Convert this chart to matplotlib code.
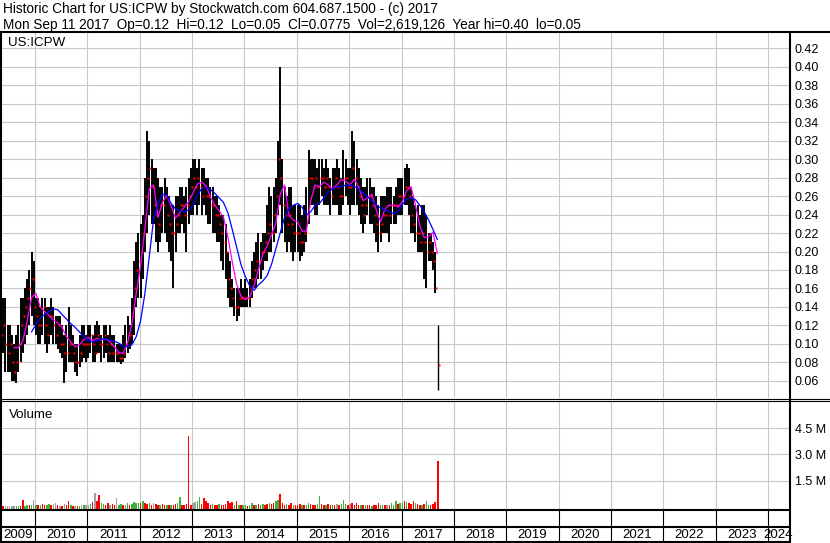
import numpy as np
import matplotlib
matplotlib.use("Agg")
import matplotlib.pyplot as plt

W, H = 830, 543
plt.rcParams['font.family'] = ['Liberation Sans', 'DejaVu Sans']

# semi-monthly bars, first one early May 2009
highs = [
    0.15, 0.15, 0.15, 0.12, 0.12, 0.11, 0.10, 0.11, 0.12, 0.15, 0.15, 0.16, 0.17, 0.18, 0.20, 0.19,
    0.15, 0.15, 0.14, 0.15, 0.15, 0.14, 0.14, 0.15, 0.14, 0.13, 0.13, 0.13, 0.12, 0.11, 0.12, 0.14, 0.12, 0.11, 0.10, 0.10, 0.11, 0.12, 0.12, 0.11,
    0.12, 0.12, 0.11, 0.12, 0.125, 0.12, 0.11, 0.12, 0.12, 0.11, 0.12, 0.11, 0.11, 0.10, 0.10, 0.10, 0.11, 0.12, 0.13, 0.12, 0.15, 0.19, 0.21, 0.22,
    0.23, 0.24, 0.28, 0.33, 0.32, 0.30, 0.29, 0.29, 0.28, 0.27, 0.27, 0.28, 0.27, 0.26, 0.25, 0.25, 0.26, 0.26, 0.27, 0.27, 0.26, 0.27, 0.28, 0.29,
    0.30, 0.30, 0.29, 0.30, 0.29, 0.29, 0.28, 0.28, 0.27, 0.27, 0.26, 0.26, 0.25, 0.24, 0.24, 0.23, 0.20, 0.19, 0.17, 0.16, 0.16, 0.16, 0.17, 0.16,
    0.17, 0.16, 0.17, 0.19, 0.20, 0.21, 0.22, 0.21, 0.22, 0.22, 0.25, 0.27, 0.26, 0.27, 0.28, 0.32, 0.40, 0.30, 0.27, 0.26, 0.27, 0.27, 0.25, 0.25,
    0.25, 0.25, 0.24, 0.25, 0.27, 0.31, 0.30, 0.30, 0.30, 0.29, 0.30, 0.30, 0.29, 0.30, 0.29, 0.28, 0.29, 0.29, 0.30, 0.29, 0.28, 0.31, 0.30, 0.29,
    0.29, 0.33, 0.32, 0.30, 0.29, 0.28, 0.27, 0.27, 0.28, 0.28, 0.27, 0.27, 0.26, 0.25, 0.26, 0.26, 0.26, 0.27, 0.27, 0.27, 0.26, 0.27, 0.28, 0.28,
    0.28, 0.29, 0.295, 0.29, 0.27, 0.26, 0.25, 0.25, 0.24, 0.25, 0.25, 0.24, 0.22, 0.22, 0.21, 0.20,
]
lows = [
    0.08, 0.09, 0.07, 0.07, 0.07, 0.06, 0.06, 0.058, 0.07, 0.08, 0.09, 0.10, 0.11, 0.12, 0.13, 0.12,
    0.11, 0.10, 0.10, 0.11, 0.10, 0.09, 0.10, 0.11, 0.10, 0.10, 0.095, 0.09, 0.085, 0.058, 0.07, 0.08, 0.08, 0.08, 0.07, 0.065, 0.075, 0.08, 0.085, 0.08,
    0.085, 0.09, 0.08, 0.08, 0.09, 0.09, 0.08, 0.085, 0.09, 0.08, 0.08, 0.08, 0.08, 0.08, 0.08, 0.078, 0.08, 0.085, 0.09, 0.095, 0.10, 0.11, 0.14, 0.15,
    0.15, 0.17, 0.20, 0.22, 0.24, 0.23, 0.23, 0.21, 0.20, 0.21, 0.22, 0.22, 0.21, 0.20, 0.19, 0.16, 0.20, 0.22, 0.22, 0.23, 0.22, 0.20, 0.23, 0.24,
    0.24, 0.25, 0.24, 0.25, 0.24, 0.25, 0.24, 0.23, 0.23, 0.22, 0.22, 0.21, 0.21, 0.19, 0.18, 0.17, 0.15, 0.14, 0.14, 0.13, 0.125, 0.13, 0.14, 0.14,
    0.14, 0.14, 0.14, 0.15, 0.16, 0.16, 0.17, 0.17, 0.18, 0.19, 0.19, 0.20, 0.20, 0.21, 0.22, 0.24, 0.25, 0.22, 0.21, 0.20, 0.21, 0.20, 0.19, 0.20,
    0.20, 0.19, 0.195, 0.20, 0.21, 0.23, 0.25, 0.25, 0.24, 0.24, 0.25, 0.26, 0.25, 0.25, 0.25, 0.24, 0.25, 0.25, 0.25, 0.24, 0.24, 0.25, 0.26, 0.25,
    0.24, 0.25, 0.25, 0.25, 0.24, 0.23, 0.22, 0.23, 0.24, 0.23, 0.23, 0.22, 0.21, 0.20, 0.21, 0.22, 0.22, 0.22, 0.21, 0.23, 0.23, 0.23, 0.24, 0.24,
    0.24, 0.25, 0.25, 0.24, 0.22, 0.22, 0.21, 0.20, 0.20, 0.20, 0.17, 0.16, 0.19, 0.19, 0.18, 0.155,
]
closes = [
    0.11, 0.12, 0.10, 0.09, 0.10, 0.08, 0.07, 0.08, 0.10, 0.12, 0.13, 0.14, 0.15, 0.16, 0.17, 0.14,
    0.13, 0.12, 0.12, 0.14, 0.12, 0.11, 0.13, 0.13, 0.12, 0.11, 0.12, 0.10, 0.10, 0.09, 0.09, 0.10, 0.10, 0.09, 0.08, 0.08, 0.09, 0.10, 0.10, 0.10,
    0.10, 0.11, 0.10, 0.09, 0.11, 0.10, 0.10, 0.11, 0.10, 0.09, 0.10, 0.09, 0.09, 0.09, 0.085, 0.085, 0.09, 0.10, 0.11, 0.11, 0.13, 0.16, 0.18, 0.19,
    0.20, 0.22, 0.26, 0.28, 0.29, 0.27, 0.25, 0.24, 0.23, 0.25, 0.25, 0.26, 0.24, 0.23, 0.22, 0.22, 0.23, 0.24, 0.25, 0.25, 0.24, 0.25, 0.26, 0.27,
    0.28, 0.27, 0.28, 0.27, 0.26, 0.27, 0.26, 0.26, 0.25, 0.25, 0.24, 0.24, 0.23, 0.22, 0.21, 0.20, 0.17, 0.16, 0.15, 0.14, 0.14, 0.15, 0.15, 0.15,
    0.15, 0.15, 0.16, 0.17, 0.18, 0.19, 0.19, 0.20, 0.20, 0.21, 0.22, 0.23, 0.22, 0.24, 0.26, 0.30, 0.28, 0.25, 0.24, 0.23, 0.24, 0.23, 0.22, 0.22,
    0.22, 0.21, 0.21, 0.22, 0.24, 0.28, 0.28, 0.27, 0.28, 0.27, 0.28, 0.28, 0.27, 0.28, 0.27, 0.26, 0.27, 0.28, 0.27, 0.26, 0.26, 0.28, 0.28, 0.27,
    0.27, 0.29, 0.28, 0.27, 0.26, 0.25, 0.24, 0.25, 0.26, 0.26, 0.25, 0.24, 0.23, 0.22, 0.23, 0.24, 0.24, 0.25, 0.24, 0.25, 0.25, 0.25, 0.26, 0.26,
    0.26, 0.27, 0.27, 0.26, 0.24, 0.23, 0.22, 0.22, 0.21, 0.22, 0.21, 0.20, 0.21, 0.20, 0.19, 0.16,
]
volumes = [  # millions
    0.08, 0.05, 0.04, 0.03, 0.03, 0.04, 0.03, 0.04, 0.05, 0.06, 0.40, 0.06, 0.08, 0.07, 0.10, 0.40,
    0.10, 0.12, 0.08, 0.15, 0.10, 0.12, 0.16, 0.12, 0.15, 0.22, 0.08, 0.06, 0.06, 0.15, 0.10, 0.30, 0.08, 0.06, 0.05, 0.05, 0.06, 0.08, 0.10, 0.08,
    0.10, 0.15, 0.25, 0.80, 0.35, 0.65, 0.20, 0.15, 0.12, 0.18, 0.10, 0.15, 0.10, 0.50, 0.12, 0.15, 0.10, 0.12, 0.18, 0.12, 0.15, 0.25, 0.20, 0.20,
    0.18, 0.35, 0.20, 0.15, 0.18, 0.12, 0.20, 0.15, 0.12, 0.10, 0.15, 0.12, 0.10, 0.08, 0.12, 0.10, 0.15, 0.20, 0.55, 0.12, 0.10, 0.15, 4.06, 0.12,
    0.20, 0.25, 0.30, 0.55, 0.15, 0.50, 0.30, 0.20, 0.12, 0.15, 0.10, 0.12, 0.15, 0.12, 0.10, 0.15, 0.35, 0.20, 0.25, 0.10, 0.35, 0.12, 0.10, 0.08,
    0.08, 0.06, 0.10, 0.20, 0.12, 0.10, 0.15, 0.12, 0.15, 0.10, 0.15, 0.20, 0.15, 0.20, 0.35, 0.40, 0.70, 0.20, 0.12, 0.15, 0.10, 0.20, 0.12, 0.10,
    0.10, 0.15, 0.08, 0.12, 0.12, 0.20, 0.15, 0.12, 0.10, 0.15, 0.60, 0.15, 0.10, 0.12, 0.15, 0.10, 0.08, 0.10, 0.15, 0.12, 0.15, 0.40, 0.15, 0.12,
    0.15, 0.20, 0.12, 0.22, 0.10, 0.08, 0.12, 0.10, 0.08, 0.10, 0.06, 0.12, 0.10, 0.18, 0.08, 0.12, 0.10, 0.10, 0.12, 0.20, 0.10, 0.30, 0.15, 0.20,
    0.20, 0.35, 0.25, 0.20, 0.15, 0.30, 0.20, 0.15, 0.12, 0.10, 0.15, 0.30, 0.12, 0.10, 0.15, 0.25,
]
# r = down, g = up, s = unchanged
vol_dirs = ("rrsssssggrrggrgs"
            "grgrrggrssrsrsrrgrsrgsgs"
            "sgrsrrggrrsrrsggrsgrgggg"
            "rgrrgrsrrgrrgrgrrggrrrrr"
            "ssggrrrrrgrrgrrrrrrgrgrg"
            "grggrgrggrrgrrggrrrgrrgr"
            "rrgrggrrrggrrgrrgrsrgggr"
            "srrrrgrgrrgrrrggrsrgggrg"
            "grgrrrgrrgrggrrr")

# last day: Mon Sep 11 2017
last_hi, last_lo, last_cl, last_vol = 0.12, 0.05, 0.0775, 2.619126

# moving averages, monthly readings
ma_fast = [
    0.096, 0.096, 0.103, 0.124, 0.150, 0.155, 0.140, 0.135, 0.131, 0.126, 0.123, 0.118, 0.108,
    0.102, 0.097, 0.099, 0.105, 0.107, 0.104, 0.106, 0.104, 0.106, 0.102, 0.097, 0.091,
    0.090, 0.101, 0.122, 0.155, 0.185, 0.225, 0.268, 0.272, 0.237, 0.253, 0.261, 0.249,
    0.236, 0.242, 0.248, 0.254, 0.263, 0.273, 0.275, 0.271, 0.259, 0.250, 0.244, 0.237,
    0.216, 0.189, 0.165, 0.152, 0.148, 0.151, 0.163, 0.180, 0.197, 0.206, 0.218, 0.231,
    0.262, 0.272, 0.239, 0.234, 0.232, 0.222, 0.222, 0.255, 0.272, 0.270, 0.275, 0.272,
    0.268, 0.272, 0.278, 0.276, 0.272, 0.278, 0.270, 0.255, 0.258, 0.262, 0.245, 0.232,
    0.246, 0.250, 0.250, 0.248, 0.254, 0.266, 0.270, 0.250, 0.228, 0.215, 0.216, 0.221, 0.198,
]
ma_slow = [
    0.113, 0.121, 0.128, 0.132, 0.135, 0.138, 0.137, 0.132, 0.127,
    0.122, 0.118, 0.113, 0.108, 0.104, 0.102, 0.104, 0.105, 0.106, 0.104, 0.103, 0.101,
    0.098, 0.097, 0.099, 0.108, 0.125, 0.155, 0.195, 0.236, 0.252, 0.262, 0.261, 0.252,
    0.246, 0.244, 0.243, 0.245, 0.250, 0.261, 0.268, 0.269, 0.267, 0.263, 0.258, 0.253,
    0.242, 0.224, 0.205, 0.186, 0.173, 0.163, 0.158, 0.164, 0.168, 0.174, 0.186, 0.203,
    0.220, 0.237, 0.246, 0.250, 0.252, 0.248, 0.240, 0.243, 0.250, 0.252, 0.258, 0.264,
    0.268, 0.270, 0.270, 0.272, 0.272, 0.270, 0.268, 0.263, 0.259, 0.255, 0.250, 0.247,
    0.245, 0.243, 0.241, 0.243, 0.251, 0.257, 0.258, 0.256, 0.250, 0.243, 0.234, 0.224, 0.213,
]

price_ticks = [0.06, 0.08, 0.10, 0.12, 0.14, 0.16, 0.18, 0.20, 0.22, 0.24,
               0.26, 0.28, 0.30, 0.32, 0.34, 0.36, 0.38, 0.40, 0.42]
vol_ticks = [1.5, 3.0, 4.5]
vol_tick_labels = ["1.5 M", "3.0 M", "4.5 M"]
years = list(range(2009, 2025))

title1 = "Historic Chart for US:ICPW by Stockwatch.com 604.687.1500 - (c) 2017"
title2 = ("Mon Sep 11 2017  Op=0.12  Hi=0.12  Lo=0.05  Cl=0.0775  "
          "Vol=2,619,126  Year hi=0.40  lo=0.05")

# time axis in fractional years
start = 2009.35
bar_t = start + np.arange(len(highs)) / 24.0
last_t = 2017.695
fast_t = start + (3 + np.arange(len(ma_fast))) / 12.0
slow_t = start + (7 + np.arange(len(ma_slow))) / 12.0
x_min, x_max = 2009.3506, 2024.4003

dir_colors = {'r': '#ff0000', 'g': '#3cb43c', 's': '#a0a0a0'}
grid_col = '#c8c8c8'


def box(x0, y0, x1, y1):
    # pixel box (top-left origin) -> figure fraction
    return [x0 / W, 1 - y1 / H, (x1 - x0) / W, (y1 - y0) / H]


def clean(ax):
    for s in ax.spines.values():
        s.set_visible(False)
    ax.tick_params(length=0, labelbottom=False, labelleft=False)


fig = plt.figure(figsize=(W / 100, H / 100), dpi=100)

# price panel
ax = fig.add_axes(box(1, 32, 789, 398))
ax.set_xlim(x_min, x_max)
ax.set_ylim(0.04162, 0.4373)
ax.set_xticks(years[1:])
ax.set_yticks(price_ticks)
ax.set_yticklabels([f"{p:.2f}" for p in price_ticks])
ax.yaxis.tick_right()
ax.grid(True, color=grid_col, lw=0.8)
ax.set_axisbelow(True)
clean(ax)
ax.tick_params(labelright=True, pad=4, labelsize=9)

ax.vlines(bar_t, lows, highs, color='black', lw=1.4, zorder=3)
ax.vlines([last_t], [last_lo], [last_hi], color='black', lw=1.0, zorder=3)
ax.plot(bar_t + 0.022, closes, 's', ms=1.8, color='#ff0000', mec='none', zorder=4)
ax.plot([last_t + 0.018], [last_cl], 's', ms=1.6, color='#ff0000', mec='none', zorder=4)
ax.plot(fast_t, ma_fast, color='#ff00ff', lw=0.9, zorder=5)
ax.plot(slow_t, ma_slow, color='#0000ff', lw=0.9, zorder=5)

# volume panel
vol_bottom = -0.109
axv = fig.add_axes(box(1, 401, 789, 508.5))
axv.set_xlim(x_min, x_max)
axv.set_ylim(vol_bottom, 6.069)
axv.set_xticks(years[1:])
axv.set_yticks(vol_ticks)
axv.set_yticklabels(vol_tick_labels)
axv.yaxis.tick_right()
axv.grid(True, color=grid_col, lw=0.8)
axv.set_axisbelow(True)
clean(axv)
axv.tick_params(labelright=True, pad=4, labelsize=9)

vcols = [dir_colors[c] for c in vol_dirs] + [dir_colors['r']]
vt = np.append(bar_t, last_t)
vv = np.append(volumes, last_vol)
axv.bar(vt, vv - vol_bottom, bottom=vol_bottom, width=0.028, color=vcols, zorder=3)

# empty row and year row under the volume panel
ax_blank = fig.add_axes(box(1, 510, 789, 527))
ax_blank.set_xlim(x_min, x_max)
ax_blank.set_ylim(0, 1)
ax_blank.vlines(years[1:], 0, 1, color='black', lw=0.8)
clean(ax_blank)

ax_yr = fig.add_axes(box(1, 527, 789, 542))
ax_yr.set_xlim(x_min, x_max)
ax_yr.set_ylim(0, 1)
ax_yr.vlines(years[1:], 0, 1, color='black', lw=0.8)
for y in years:
    lo_edge, hi_edge = max(y, x_min), min(y + 1, x_max)
    ax_yr.text((lo_edge + hi_edge) / 2, 0.45, str(y), ha='center', va='center', fontsize=9.5)
clean(ax_yr)

# frame lines and header text, drawn in pixel coordinates
ov = fig.add_axes([0, 0, 1, 1])
ov.set_xlim(0, W)
ov.set_ylim(H, 0)
ov.axis('off')
ov.patch.set_visible(False)
thick = 1.5
ov.hlines(31.8, 0, W, color='black', lw=thick)
ov.hlines([398.5, 401.3], 0, W, color='black', lw=0.8)
ov.hlines([510, 526.8, 542], 0, 789.5, color='black', lw=thick)
ov.vlines([0.8, 789.5], 31, H, color='black', lw=thick)

ov.text(3, 13, title1, fontsize=9.8, va='baseline', ha='left')
ov.text(3, 28.5, title2, fontsize=9.8, va='baseline', ha='left')
ov.text(8, 46, "US:ICPW", fontsize=9.6, va='baseline', ha='left')
ov.text(9, 418, "Volume", fontsize=9.6, va='baseline', ha='left')

fig.savefig("out.png", dpi=100)
